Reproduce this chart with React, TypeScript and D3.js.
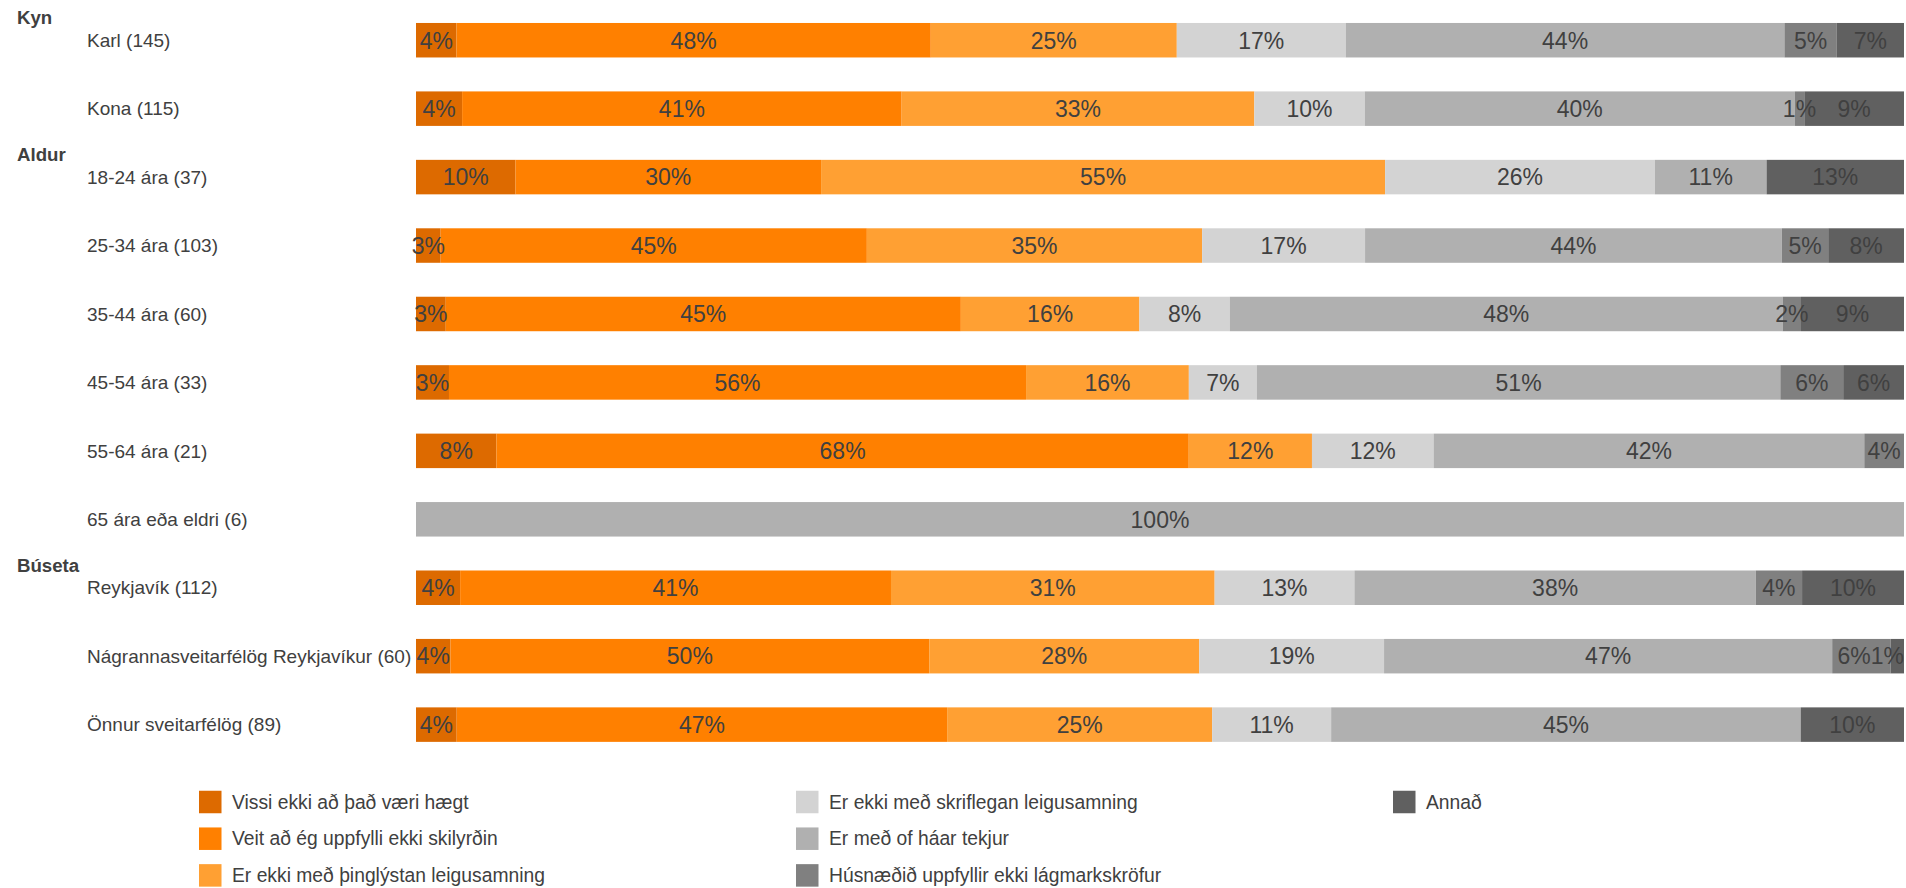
import React from "react";
import * as d3 from "d3";

const categories = [
  "Karl (145)",
  "Kona (115)",
  "18-24 ára (37)",
  "25-34 ára (103)",
  "35-44 ára (60)",
  "45-54 ára (33)",
  "55-64 ára (21)",
  "65 ára eða eldri (6)",
  "Reykjavík (112)",
  "Nágrannasveitarfélög Reykjavíkur (60)",
  "Önnur sveitarfélög (89)",
];

const groups = [
  { name: "Kyn", first: 0 },
  { name: "Aldur", first: 2 },
  { name: "Búseta", first: 8 },
];

const seriesNames = [
  "Vissi ekki að það væri hægt",
  "Veit að ég uppfylli ekki skilyrðin",
  "Er ekki með þinglýstan leigusamning",
  "Er ekki með skriflegan leigusamning",
  "Er með of háar tekjur",
  "Húsnæðið uppfyllir ekki lágmarkskröfur",
  "Annað",
];

const seriesColors = ["#dd6a00", "#ff8000", "#ffa033", "#d3d3d3", "#b0b0b0", "#808080", "#606060"];

// values in %, per category (order as in categories)
const vissiEkki = [4.1, 4.3, 9.7, 2.6, 2.6, 3.2, 7.9, 0, 4.2, 3.6, 3.9];
const veitAd = [48, 41, 29.8, 45, 45, 56, 68, 0, 41, 50, 47];
const thinglystan = [24.9, 32.9, 55, 35.4, 15.6, 15.8, 12.1, 0, 30.8, 28.2, 25.4];
const skriflegan = [17.1, 10.3, 26.3, 17.2, 7.9, 6.6, 11.95, 0, 13.3, 19.3, 11.4];
const hearTekjur = [44.4, 40.1, 10.9, 44, 48.3, 50.8, 42.3, 100, 38.2, 46.8, 45];
const husnaedid = [5.3, 0.9, 0, 4.9, 1.6, 6.1, 3.9, 0, 4.4, 6.1, 0];
const annad = [6.8, 9.3, 13.4, 8.0, 9.0, 5.9, 0, 0, 9.7, 1.4, 9.9];

const seriesValues = [vissiEkki, veitAd, thinglystan, skriflegan, hearTekjur, husnaedid, annad];

const W = 1906;
const H = 888;
const FONT = "'Liberation Sans', Arial, sans-serif";
const TEXT = "#404040";

let ctx: CanvasRenderingContext2D | null = null;
function measure(text: string, size: number) {
  if (!ctx) {
    const c = document.createElement("canvas");
    ctx = c.getContext("2d");
  }
  if (!ctx) return text.length * size * 0.55;
  ctx.font = `${size}px 'Liberation Sans', Arial, sans-serif`;
  return ctx.measureText(text).width;
}

export default function App() {
  const barLeft = 416;
  const barRight = 1904;
  const y = d3
    .scaleBand<number>()
    .domain(d3.range(categories.length))
    .range([6, 6 + 68.44 * categories.length])
    .paddingInner(0.496)
    .paddingOuter(0.248);

  const labelSize = 23;

  const rows = categories.map((cat, i) => {
    const vals = seriesValues.map((s) => s[i]);
    const total = d3.sum(vals);
    const x = d3.scaleLinear().domain([0, total]).range([barLeft, barRight]);
    let cum = 0;
    const segs = vals.map((v, k) => {
      const x0 = x(cum);
      cum += v;
      const x1 = x(cum);
      return { k, v, x0, x1 };
    });
    const labels = segs
      .filter((s) => s.v > 0)
      .map((s) => {
        const text = `${Math.round(s.v)}%`;
        const w = measure(text, labelSize);
        const c = (s.x0 + s.x1) / 2;
        return { text, w, left: c - w / 2, k: s.k };
      });
    for (let j = labels.length - 1; j >= 0; j--) {
      const lb = labels[j];
      const limit = j === labels.length - 1 ? barRight : labels[j + 1].left;
      if (lb.left + lb.w > limit) lb.left = limit - lb.w;
    }
    return { cat, i, segs, labels };
  });

  const bw = y.bandwidth();

  const legendCols = [199, 796, 1393];
  const legendRows = [802, 838.7, 875.4];

  return (
    <svg
      width={W}
      height={H}
      style={{ position: "absolute", left: 0, top: 0, background: "#fff" }}
      fontFamily={FONT}
    >
      {groups.map((g) => (
        <text
          key={g.name}
          x={17}
          y={(y(g.first) as number) + bw / 2 - 16}
          fontSize={18.67}
          fontWeight="bold"
          fill={TEXT}
        >
          {g.name}
        </text>
      ))}
      {rows.map((r) => (
        <text
          key={"c" + r.i}
          x={87}
          y={(y(r.i) as number) + bw / 2}
          dy="0.35em"
          fontSize={19}
          fill={TEXT}
        >
          {r.cat}
        </text>
      ))}
      {rows.map((r) => (
        <g key={"b" + r.i}>
          {r.segs
            .filter((s) => s.v > 0)
            .map((s) => (
              <rect
                key={s.k}
                x={s.x0}
                y={y(r.i) as number}
                width={Math.max(0, s.x1 - s.x0)}
                height={bw}
                fill={seriesColors[s.k]}
              />
            ))}
        </g>
      ))}
      {rows.map((r) => (
        <g key={"l" + r.i}>
          {r.labels.map((lb) => (
            <text
              key={lb.k}
              x={lb.left}
              y={(y(r.i) as number) + bw / 2}
              dy="0.36em"
              fontSize={labelSize}
              fill={TEXT}
            >
              {lb.text}
            </text>
          ))}
        </g>
      ))}
      {seriesNames.map((name, k) => {
        const col = Math.floor(k / 3);
        const row = k % 3;
        const lx = legendCols[col];
        const ly = legendRows[row];
        return (
          <g key={"lg" + k}>
            <rect x={lx} y={ly - 11.25} width={22.5} height={22.5} fill={seriesColors[k]} />
            <text x={lx + 33} y={ly} dy="0.35em" fontSize={19.3} fill={TEXT}>
              {name}
            </text>
          </g>
        );
      })}
    </svg>
  );
}
